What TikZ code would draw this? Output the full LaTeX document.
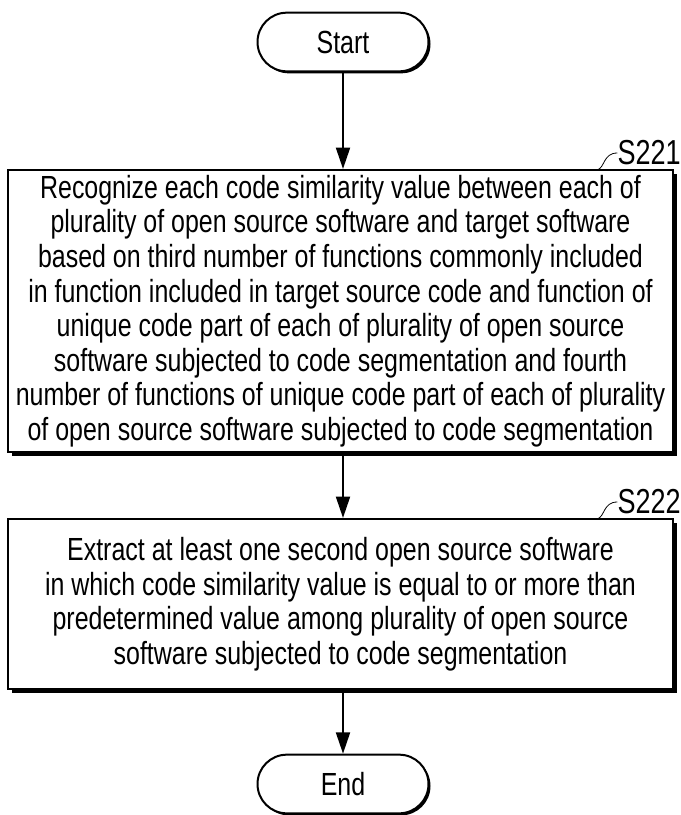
\documentclass[tikz,border=0pt]{standalone}
\usepackage{fontspec}
\setmainfont{Liberation Sans}[FakeStretch=0.78]
\usetikzlibrary{shapes.misc,arrows.meta,shadows}
\begin{document}
\begin{tikzpicture}[x=0.75pt,y=-0.75pt,
  every node/.style={font=\fontsize{24pt}{25.9pt}\selectfont},
  term/.style={rounded rectangle, draw, line width=1.5pt, fill=white,
    minimum width=128.25pt, minimum height=44pt, inner sep=0pt,
    drop shadow={shadow xshift=1.5pt, shadow yshift=-1.5pt, fill=black, opacity=1}},
  proc/.style={draw, line width=1.6pt, fill=white, align=center, inner sep=0pt,
    minimum width=498.75pt,
    drop shadow={shadow xshift=3pt, shadow yshift=-3pt, fill=black, opacity=1}},
  arr/.style={line width=1.5pt, -{Triangle[length=16pt,width=10.5pt]}},
  lead/.style={line width=0.6pt},
  steplabel/.style={anchor=east, inner sep=0pt, font=\fontsize{26pt}{28pt}\selectfont}]
\useasboundingbox (0,0) rectangle (681,815);
\node[term] (start) at (343,42) {Start};
\node[proc, minimum height=211.5pt] (b1) at (340.5,311) {Recognize each code similarity value between each of\\
plurality of open source software and target software\\
based on third number of functions commonly included\\
in function included in target source code and function of\\
unique code part of each of plurality of open source\\
software subjected to code segmentation and fourth\\
number of functions of unique code part of each of plurality\\
of open source software subjected to code segmentation};
\node[proc, minimum height=127.5pt] (b2) at (340.5,604) {Extract at least one second open source software\\
in which code similarity value is equal to or more than\\
predetermined value among plurality of open source\\
software subjected to code segmentation};
\node[term] (end) at (343,784) {End};
\node[steplabel] (l1) at (681,153) {S221};
\node[steplabel] (l2) at (681,502) {S222};
\coordinate (c1) at (597,170);
\coordinate (c2) at (597,519);
\draw[lead] (c1) .. controls (605,168) and (603,153) .. (l1.west);
\draw[lead] (c2) .. controls (605,517) and (603,502) .. (l2.west);
\draw[arr] (start.south) -- (start.south |- b1.north);
\draw[arr] (b1.south -| start) -- (b2.north -| start);
\draw[arr] (b2.south -| end) -- (end.north);
\end{tikzpicture}
\end{document}
